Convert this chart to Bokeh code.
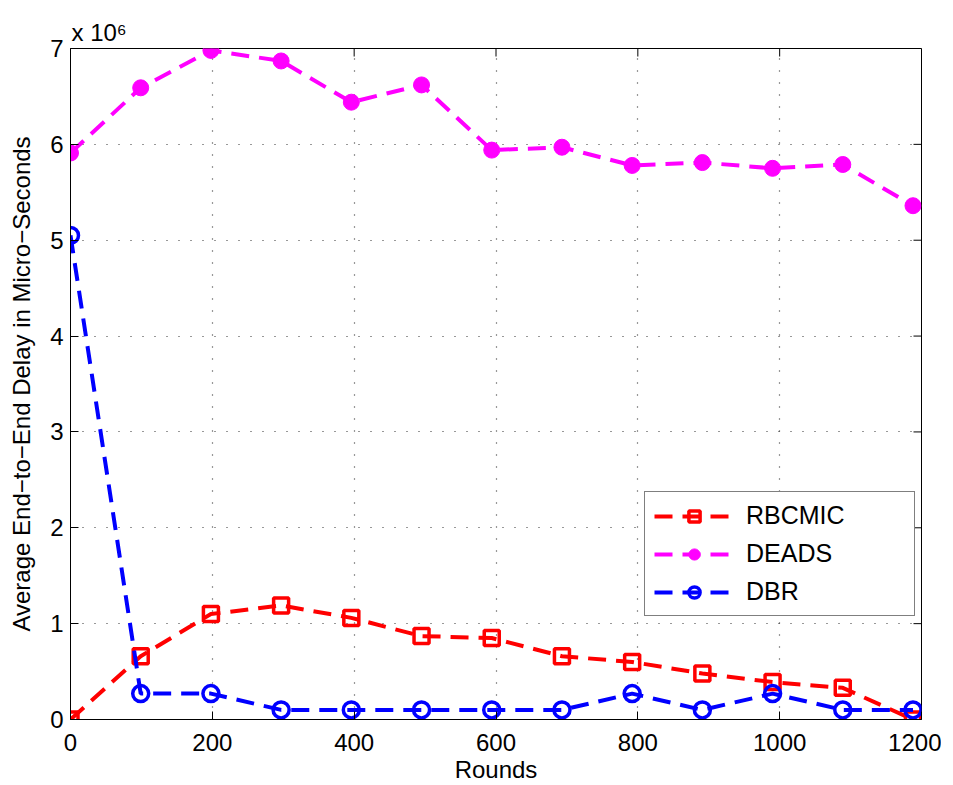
from bokeh.plotting import figure
from bokeh.models import Legend, LegendItem, FixedTicker
from bokeh.embed import file_html
from bokeh.resources import INLINE

# Rounds (x) and average end-to-end delay in units of 10^6 micro-seconds (y)
rounds = [0, 99, 198, 297, 396, 495, 594, 693, 792, 891, 990, 1089, 1188]
rbcmic = [0.0, 0.66, 1.10, 1.19, 1.06, 0.87, 0.85, 0.66, 0.60, 0.48, 0.39, 0.33, 0.0]
deads = [5.91, 6.59, 6.98, 6.87, 6.44, 6.62, 5.94, 5.97, 5.78, 5.81, 5.75, 5.79, 5.36]
dbr = [5.05, 0.27, 0.27, 0.10, 0.10, 0.10, 0.10, 0.10, 0.27, 0.10, 0.27, 0.10, 0.10]

x_ticks = [0, 200, 400, 600, 800, 1000, 1200]
y_ticks = [0, 1, 2, 3, 4, 5, 6, 7]
series_names = ["RBCMIC", "DEADS", "DBR"]

FONT = "Liberation Sans"
FW, FH = 851, 671
X0, X1, Y0, Y1 = 0, 1200, 0, 7
TICK = 8

p = figure(frame_width=FW, frame_height=FH, x_range=(X0, X1), y_range=(Y0, Y1),
           output_backend="svg", toolbar_location=None,
           min_border_left=70, min_border_right=20, min_border_top=48, min_border_bottom=60)
p.background_fill_color = "white"
p.border_fill_color = "white"
p.outline_line_color = "black"
p.outline_line_width = 1

# title used as the axis exponent marker
p.title.text = "x 10\u2076"
p.title.align = "left"
p.title.text_font = FONT
p.title.text_font_size = "24px"
p.title.text_font_style = "normal"
p.title.text_color = "black"
p.title.offset = 1
p.title.standoff = 6

# axes
for ax in (p.xaxis[0], p.yaxis[0]):
    ax.major_tick_in = TICK
    ax.major_tick_out = 0
    ax.minor_tick_line_color = None
    ax.axis_line_color = "black"
    ax.major_tick_line_color = "black"
    ax.major_label_text_font = FONT
    ax.major_label_text_font_size = "24px"
    ax.major_label_text_color = "black"
    ax.axis_label_text_font = FONT
    ax.axis_label_text_font_size = "24px"
    ax.axis_label_text_font_style = "normal"
    ax.axis_label_text_color = "black"

p.xaxis.ticker = FixedTicker(ticks=x_ticks)
p.yaxis.ticker = FixedTicker(ticks=y_ticks)
p.xaxis.major_label_standoff = 14
p.yaxis.major_label_standoff = 7
p.xaxis.axis_label = "Rounds"
p.yaxis.axis_label = "Average End\u2212to\u2212End Delay in Micro\u2212Seconds"
p.xaxis.axis_label_standoff = 2
p.yaxis.axis_label_standoff = 12

# grid
for g in (p.xgrid[0], p.ygrid[0]):
    g.grid_line_color = "#333333"
    g.grid_line_dash = "1 11"
    g.grid_line_width = 1.2

# mirrored inward ticks on the top and right edges of the box
dx = TICK * (X1 - X0) / FW
dy = TICK * (Y1 - Y0) / FH
p.segment(x0=x_ticks, y0=[Y1] * len(x_ticks), x1=x_ticks, y1=[Y1 - dy] * len(x_ticks),
          line_color="black", line_width=1)
p.segment(x0=[X1] * len(y_ticks), y0=y_ticks, x1=[X1 - dx] * len(y_ticks), y1=y_ticks,
          line_color="black", line_width=1)

DASH = "18 10"
items = []

r1 = p.line(rounds, rbcmic, line_color="#FF0000", line_width=4, line_dash=DASH)
s1 = p.scatter(rounds, rbcmic, marker="square", size=15, line_color="#FF0000",
               line_width=3.5, fill_color=None)
items.append(LegendItem(label=series_names[0], renderers=[r1, s1]))

r2 = p.line(rounds, deads, line_color="#FF00FF", line_width=4, line_dash=DASH)
s2 = p.scatter(rounds, deads, marker="circle", size=16, line_color="#FF00FF",
               line_width=1, fill_color="#FF00FF")
items.append(LegendItem(label=series_names[1], renderers=[r2, s2]))

r3 = p.line(rounds, dbr, line_color="#0000FF", line_width=4, line_dash=DASH)
s3 = p.scatter(rounds, dbr, marker="circle", size=16, line_color="#0000FF",
               line_width=3.5, fill_color=None)
items.append(LegendItem(label=series_names[2], renderers=[r3, s3]))

legend = Legend(items=items, location=(574, 103))
legend.label_text_font = FONT
legend.label_text_font_size = "25px"
legend.label_text_color = "black"
legend.glyph_width = 80
legend.glyph_height = 28
legend.label_height = 28
legend.label_width = 159
legend.label_standoff = 12
legend.spacing = 9
legend.padding = 9
legend.margin = 0
legend.border_line_color = "black"
legend.border_line_width = 1.2
legend.background_fill_color = "white"
legend.background_fill_alpha = 1
p.add_layout(legend, "center")

open("out.html", "w").write(file_html(p, INLINE))
